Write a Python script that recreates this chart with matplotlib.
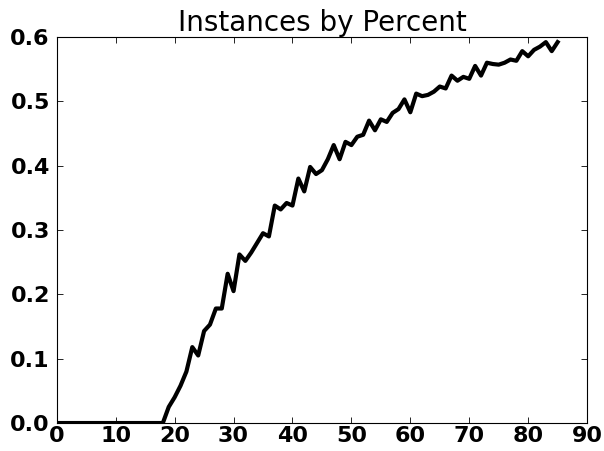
import matplotlib
matplotlib.use('Agg')
import matplotlib.pyplot as plt

# percent values and instance ratio
percent = list(range(0, 86))
zeros = [0.0] * 19
ratio = zeros + [
    0.025, 0.040, 0.058, 0.080, 0.118, 0.105, 0.143, 0.153, 0.178, 0.178,
    0.232, 0.205, 0.262, 0.252, 0.265, 0.280, 0.295, 0.290, 0.338, 0.332,
    0.342, 0.338, 0.380, 0.360, 0.398, 0.387, 0.393, 0.410, 0.432, 0.410,
    0.437, 0.432, 0.445, 0.448, 0.470, 0.455, 0.472, 0.468, 0.482, 0.488,
    0.503, 0.483, 0.512, 0.508, 0.510, 0.515, 0.523, 0.520, 0.540, 0.532,
    0.538, 0.535, 0.555, 0.540, 0.560, 0.558, 0.557, 0.560, 0.565, 0.563,
    0.578, 0.570, 0.580, 0.585, 0.592, 0.578, 0.592,
]
xticks = list(range(0, 91, 10))
yticks = [0.0, 0.1, 0.2, 0.3, 0.4, 0.5, 0.6]

fig = plt.figure(figsize=(6.04, 4.51), dpi=100)
ax = fig.add_axes([0.094, 0.062, 0.878, 0.856])
ax.plot(percent, ratio, color='black', linewidth=3)
ax.set_xlim(0, 90)
ax.set_ylim(0, 0.6)
ax.set_xticks(xticks)
ax.set_yticks(yticks)
ax.set_xticklabels([str(t) for t in xticks])
ax.set_yticklabels(['%.1f' % t for t in yticks])
ax.tick_params(axis='both', direction='in', top=True, right=True,
               length=4, width=0.6, labelsize=16)
ax.tick_params(axis='x', pad=2)
ax.tick_params(axis='y', pad=5)
for lab in ax.get_xticklabels() + ax.get_yticklabels():
    lab.set_fontweight('bold')
ax.set_title('Instances by Percent', fontsize=20, pad=4)

fig.savefig('out.png', dpi=100)
